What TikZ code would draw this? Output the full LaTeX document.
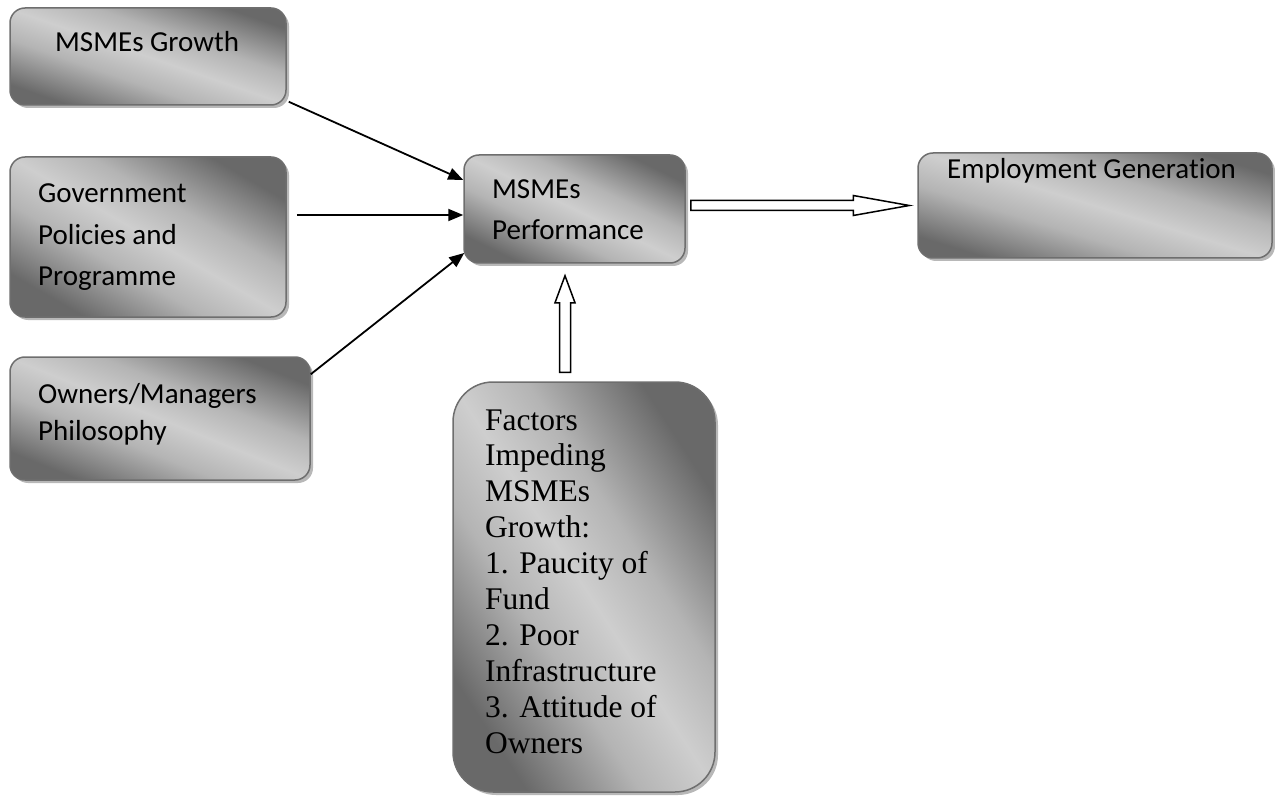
\documentclass[tikz,border=0pt]{standalone}
\usepackage{fontspec}
\setmainfont{Carlito}[Ligatures=NoCommon]
\newfontfamily\seriffont{Liberation Serif}
\usetikzlibrary{shadows,calc,arrows.meta}
\definecolor{bdark}{RGB}{105,105,105}
\definecolor{bmid}{RGB}{180,180,180}
\definecolor{blight}{RGB}{206,206,206}
\definecolor{bline}{RGB}{110,110,110}
\pgfdeclarehorizontalshading{boxshade}{100bp}{color(0bp)=(bdark); color(25bp)=(bdark); color(40bp)=(bmid); color(50bp)=(blight); color(60bp)=(bmid); color(75bp)=(bdark); color(100bp)=(bdark)}
\tikzset{
  box/.style={draw=bline, line width=1.5pt, rounded corners=15pt, inner sep=0pt,
    shading=boxshade, shading angle=#1,
    drop shadow={shadow xshift=3pt, shadow yshift=-3pt, fill=black!28, opacity=1}},
  lbl/.style={anchor=base west, inner sep=0pt},
  cal/.style={font=\fontsize{29}{41}\selectfont},
  link/.style={line width=1.8pt, -{Triangle[length=15pt,width=12pt]}},
  hollow/.style={draw=black, line width=1.5pt, fill=white, line join=miter},
}
\begin{document}
\begin{tikzpicture}[x=1pt,y=-1pt]
\useasboundingbox (0,0) rectangle (1275,805);
% boxes
\node[box=71, minimum width=276pt, minimum height=97pt] (g1) at (148,56.5) {};
\node[box=60, minimum width=276pt, minimum height=160pt] (g2) at (148,237) {};
\node[box=68, minimum width=300pt, minimum height=123pt] (g3) at (160,418.5) {};
\node[box=64, minimum width=221pt, minimum height=108pt] (perf) at (574.5,209) {};
\node[box=73, minimum width=354pt, minimum height=105pt] (emp) at (1095,205.5) {};
\node[box=33, rounded corners=40pt, minimum width=262pt, minimum height=410pt] (fac) at (584,587) {};
% texts
\node[lbl, cal] (t1) at (55,52) {MSMEs Growth};
\node[lbl] (t2) at (38,203) {\fontsize{29}{41.5}\selectfont\begin{tabular}[t]{@{}l@{}}Government\\Policies and\\Programme\end{tabular}};
\node[lbl] (t3) at (38,403) {\fontsize{29}{37}\selectfont\begin{tabular}[t]{@{}l@{}}Owners/Managers\\Philosophy\end{tabular}};
\node[lbl] (t4) at (492,199) {\fontsize{29}{41}\selectfont\begin{tabular}[t]{@{}l@{}}MSMEs\\Performance\end{tabular}};
\node[lbl, cal] (t5) at (947,179) {Employment Generation};
\node[lbl] (t6) at (485,430) {\seriffont\fontsize{31.5}{35.9}\selectfont\begin{tabular}[t]{@{}l@{}}Factors\\Impeding\\MSMEs\\Growth:\\1. Paucity of\\Fund\\2. Poor\\Infrastructure\\3. Attitude of\\Owners\end{tabular}};
% connectors
\draw[link] ($(g1.south east)+(2,-4)$) -- ($(perf.west)+(0,-29)$);
\draw[link] ($(g2.east)+(10,-22)$) -- ($(perf.west)+(0,6)$);
\draw[link] ($(g3.north east)+(0,18)$) -- ($(perf.west)+(1,44)$);
% hollow arrows
\coordinate (h1a) at ($(perf.east |- emp.west)+(5,0)$);
\coordinate (h1b) at ($(emp.west)+(-8,0)$);
\draw[hollow] let \p1=(h1a), \p2=(h1b) in
  (\x1,\y1+5pt) -- (\x2-56pt,\y1+5pt) -- (\x2-56pt,\y1+10pt) -- (\x2,\y2)
  -- (\x2-56pt,\y1-10pt) -- (\x2-56pt,\y1-5pt) -- (\x1,\y1-5pt) -- cycle;
\coordinate (v1a) at ($(fac.north)+(-19,-9)$);
\coordinate (v1b) at ($(perf.south)+(-9.5,12)$);
\draw[hollow] let \p1=(v1a), \p2=(v1b) in
  (\x1-5.5pt,\y1) -- (\x1-5.5pt,\y2-27pt) -- (\x1-10pt,\y2-27pt) -- (\x2,\y2)
  -- (\x1+10pt,\y2-27pt) -- (\x1+5.5pt,\y2-27pt) -- (\x1+5.5pt,\y1) -- cycle;
\end{tikzpicture}
\end{document}
